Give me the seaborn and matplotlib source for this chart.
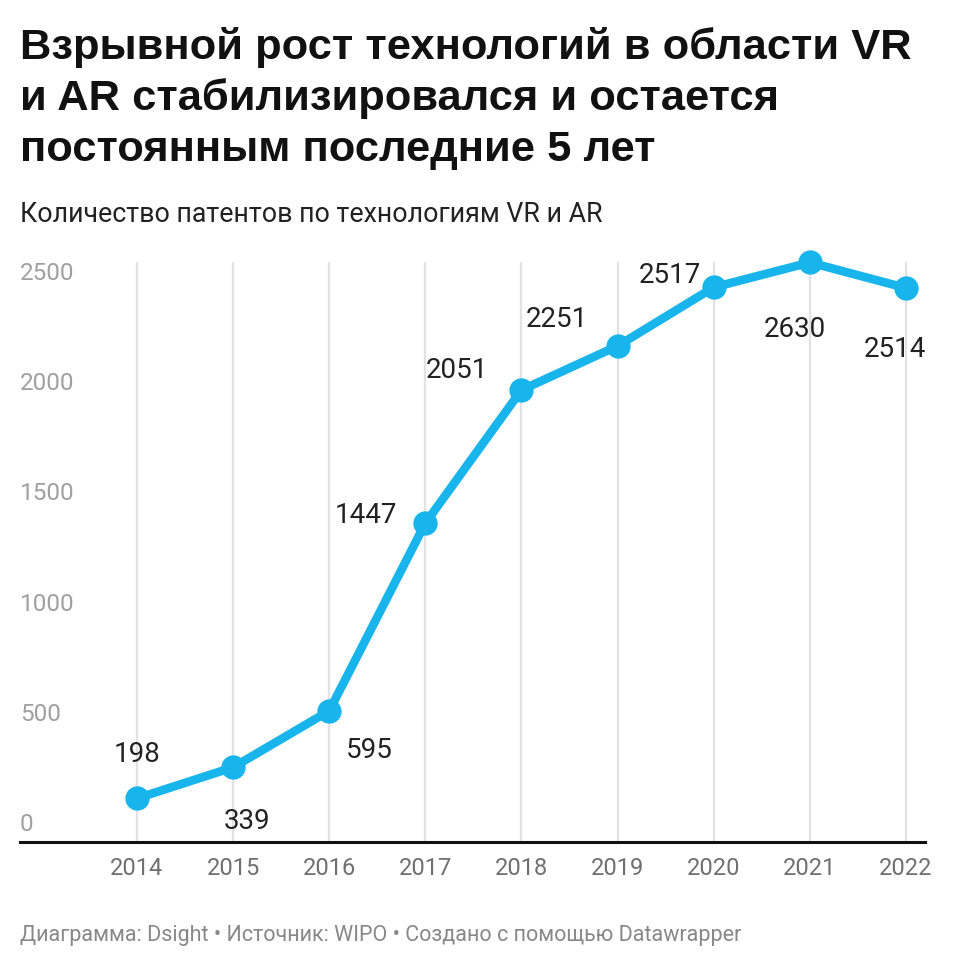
import matplotlib
matplotlib.use("Agg")
import matplotlib.pyplot as plt
import seaborn as sns
import pandas as pd

years = [2014, 2015, 2016, 2017, 2018, 2019, 2020, 2021, 2022]
patents = [198, 339, 595, 1447, 2051, 2251, 2517, 2630, 2514]
y_ticks = [0, 500, 1000, 1500, 2000, 2500]
# label offsets in pixels (dx, dy)
label_offsets = [(0, 44), (14, -54), (40, -40), (-59, 8), (-65, 20),
                 (-61, 26), (-44, 12), (-15, -67), (-11, -61)]

title = "Взрывной рост технологий в области VR\nи AR стабилизировался и остается\nпостоянным последние 5 лет"
subtitle = "Количество патентов по технологиям VR и AR"
footer = "Диаграмма: Dsight • Источник: WIPO • Создано с помощью Datawrapper"

sns.set_theme(style="white")
plt.rcParams["font.family"] = ["Roboto", "DejaVu Sans"]

df = pd.DataFrame({"year": years, "patents": patents})

W, H = 958, 968
fig = plt.figure(figsize=(W / 100, H / 100), dpi=100)
ax = fig.add_axes([20 / W, (H - 842) / H, (925 - 20) / W, (842 - 262) / H])

color = "#18b4ec"
for yr in years:
    ax.axvline(yr, color="#e2e2e2", lw=1.6, zorder=0)

sns.lineplot(data=df, x="year", y="patents", ax=ax, color=color, linewidth=6.2,
             marker="o", markersize=17.5, markeredgewidth=0, zorder=3,
             clip_on=False)

ax.set_xlim(2012.783, 2022.198)
ax.set_ylim(0, 2632)
for s in ["top", "right", "left"]:
    ax.spines[s].set_visible(False)
ax.spines["bottom"].set_color("#111111")
ax.spines["bottom"].set_linewidth(2.2)
ax.set_xlabel("")
ax.set_ylabel("")
ax.set_yticks([])
ax.set_xticks(years)
ax.set_xticklabels([str(y) for y in years], fontsize=17, color="#707070")
ax.tick_params(axis="x", length=0, pad=11)

for v in y_ticks:
    ax.annotate(str(v), xy=(0, v), xycoords=("axes fraction", "data"),
                xytext=(0, 6), textcoords="offset pixels",
                ha="left", va="bottom", fontsize=17.5, color="#a0a0a0")

for yr, v, (dx, dy) in zip(years, patents, label_offsets):
    ax.annotate(str(v), xy=(yr, v), xytext=(dx, dy), textcoords="offset pixels",
                ha="center", va="center", fontsize=20, color="#222222", zorder=4)

fig.text(20 / W, 1 - 27 / H, title, ha="left", va="top", fontsize=31.3,
         fontweight="bold", family=["Liberation Sans", "DejaVu Sans"],
         color="#111111", linespacing=1.33)
fig.text(20 / W, 1 - 214 / H, subtitle, ha="left", va="center", fontsize=19.3,
         color="#222222")
fig.text(20 / W, 1 - 935 / H, footer, ha="left", va="center", fontsize=15.5,
         color="#888888")

fig.savefig("out.png", dpi=100, facecolor="white")
